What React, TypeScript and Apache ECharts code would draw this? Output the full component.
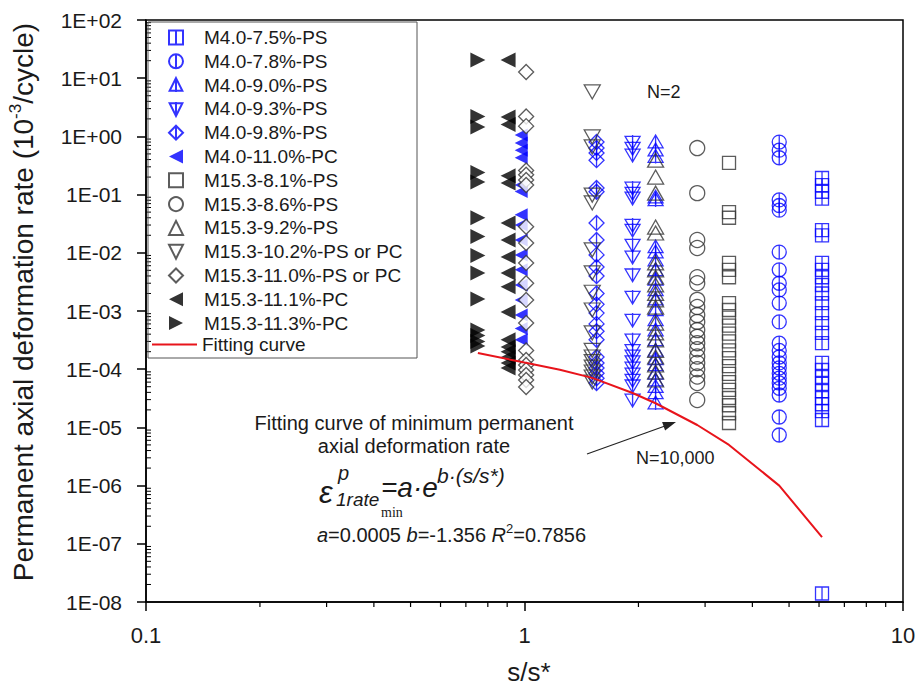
import React, { useEffect, useRef } from 'react';
import * as echarts from 'echarts';

const FONT = "'Liberation Sans', Arial, Helvetica, sans-serif";
const SERIF = "'Liberation Serif', 'Times New Roman', serif";
const INK = '#1a1a1a';
const BLUE = '#0000ff';
const GREY = '#333333';
const RED = '#e8141b';

const xTickLabels = ['0.1', '1', '10'];
const yTickLabels = ['1E-08', '1E-07', '1E-06', '1E-05', '1E-04', '1E-03', '1E-02', '1E-01', '1E+00', '1E+01', '1E+02'];

// s/s* position of each test group
const xM40_75 = 6.11;
const xM40_78 = 4.71;
const xM40_90 = 2.22;
const xM40_93 = 1.93;
const xM40_98 = 1.55;
const xM40_110 = 0.98;
const xM153_81 = 3.47;
const xM153_86 = 2.86;
const xM153_92 = 2.22;
const xM153_102 = 1.51;
const xM153_110 = 1.01;
const xM153_111 = 0.905;
const xM153_113 = 0.753;

// permanent axial deformation rates (10^-3/cycle)
const yM40_75 = [0.193, 0.146, 0.112, 0.085, 0.0246, 0.02, 0.0067, 0.0051, 0.0038, 0.0028, 0.002, 0.00137, 0.00092, 0.00062, 0.00042, 0.00028, 0.000128, 0.0000968, 0.0000734, 0.000056, 0.000042, 0.000032, 0.000025, 0.000019, 0.0000134, 1.4e-8];
const yM40_78 = [0.8, 0.58, 0.43, 0.081, 0.065, 0.054, 0.0103, 0.0051, 0.003, 0.0023, 0.00137, 0.00065, 0.00028, 0.00021, 0.000162, 0.000128, 0.000105, 0.000085, 0.00007, 0.000058, 0.000047, 0.000036, 0.0000151, 0.0000074];
const yM40_90 = [0.8, 0.58, 0.45, 0.09, 0.081, 0.0126, 0.0103, 0.0075, 0.0051, 0.0035, 0.0023, 0.0016, 0.00104, 0.0007, 0.00047, 0.00032, 0.00021, 0.00015, 0.000118, 0.000085, 0.000065, 0.00005, 0.000039, 0.0000262];
const yM40_93 = [0.8, 0.63, 0.48, 0.13, 0.106, 0.088, 0.03, 0.0246, 0.0136, 0.0085, 0.0042, 0.00174, 0.0007, 0.00032, 0.00021, 0.00017, 0.000135, 0.000105, 0.000083, 0.000065, 0.000052, 0.0000296];
const yM40_98 = [0.8, 0.63, 0.52, 0.39, 0.13, 0.112, 0.0325, 0.0166, 0.0092, 0.0057, 0.004, 0.002, 0.0013, 0.00092, 0.0006, 0.00045, 0.00032, 0.000162, 0.000128, 0.000105, 0.000085, 0.00007, 0.000058];
const yM40_110 = [1.06, 0.77, 0.58, 0.43, 0.146, 0.113, 0.045, 0.03, 0.0166, 0.0092, 0.0051, 0.0028, 0.00155, 0.00085, 0.0005, 0.00032];
const yM153_81 = [0.35, 0.05, 0.04, 0.0067, 0.0051, 0.0038, 0.00137, 0.00104, 0.00077, 0.00056, 0.00041, 0.0003, 0.00021, 0.000155, 0.000113, 0.000083, 0.00006, 0.000044, 0.000032, 0.000024, 0.0000175, 0.0000119];
const yM153_86 = [0.63, 0.106, 0.0166, 0.0121, 0.0038, 0.003, 0.00155, 0.00117, 0.00085, 0.00065, 0.00047, 0.00036, 0.00028, 0.00022, 0.000165, 0.000128, 0.0001, 0.000075, 0.000058, 0.0000296];
const yM153_92 = [0.39, 0.2, 0.106, 0.0277, 0.0219, 0.0067, 0.0051, 0.0038, 0.0028, 0.002, 0.00155, 0.00117, 0.00062, 0.00042, 0.00032, 0.00021, 0.000162, 0.000118, 0.0000895, 0.0000652];
const yM153_102 = [5.8, 0.98, 0.66, 0.098, 0.072, 0.0112, 0.0045, 0.0021, 0.00104, 0.00042, 0.00021, 0.000162, 0.000135, 0.000109, 0.0000895, 0.0000734, 0.0000603];
const yM153_110 = [12.8, 2.2, 1.5, 0.26, 0.22, 0.178, 0.146, 0.028, 0.0147, 0.0067, 0.003, 0.00155, 0.00062, 0.00021, 0.000144, 0.000118, 0.0000968, 0.0000795, 0.0000652, 0.0000495];
const yM153_111 = [20.6, 2.15, 1.6, 0.21, 0.158, 0.0325, 0.0166, 0.0085, 0.0045, 0.0026, 0.00096, 0.00032, 0.00024, 0.0002, 0.00016, 0.000128, 0.000105];
const yM153_113 = [20.6, 2.2, 1.45, 0.24, 0.165, 0.04, 0.019, 0.009, 0.0045, 0.0016, 0.00047, 0.00038, 0.0003, 0.00025];

// fitting curve of minimum permanent axial deformation rate
const fitX = [0.753, 1.0, 1.24, 1.51, 1.93, 2.22, 2.86, 3.47, 4.71, 6.11];
const fitY = [1.9e-4, 1.3e-4, 9.8e-5, 7.1e-5, 3.9e-5, 2.6e-5, 1.1e-5, 5e-6, 1.0e-6, 1.3e-7];

const scatterNames = [
  'M4.0-7.5%-PS', 'M4.0-7.8%-PS', 'M4.0-9.0%-PS', 'M4.0-9.3%-PS', 'M4.0-9.8%-PS', 'M4.0-11.0%-PC',
  'M15.3-8.1%-PS', 'M15.3-8.6%-PS', 'M15.3-9.2%-PS', 'M15.3-10.2%-PS or PC', 'M15.3-11.0%-PS or PC',
  'M15.3-11.1%-PC', 'M15.3-11.3%-PC',
];
const fitName = 'Fitting curve';

const SYM = {
  sqV: 'path://M0,0H10V10H0ZM5,0V10',
  circV: 'path://M0,5A5,5,0,1,1,10,5A5,5,0,1,1,0,5ZM5,0V10',
  triUpV: 'path://M5,0L10,10H0ZM5,0V11',
  triDownV: 'path://M0,0H10L5,10ZM5,-1V10',
  diamV: 'path://M5,0L10,5L5,10L0,5ZM5,0V10',
  triLeft: 'path://M10,0V10L0,5Z',
  triRight: 'path://M0,0L10,5L0,10Z',
  triDown: 'path://M0,0H10L5,10Z',
  triUp: 'path://M5,0L10,10H0Z',
  lineIcon: 'path://M0,0H45V2H0Z',
};

const yMinorTicks: number[] = [];
for (let e = -8; e < 2; e++) for (let m = 2; m <= 9; m++) yMinorTicks.push(m * Math.pow(10, e));
const xMinorTicks: number[] = [];
for (let e = -1; e < 1; e++) for (let m = 2; m <= 9; m++) xMinorTicks.push(m * Math.pow(10, e));

function openSeries(name: string, x: number, ys: number[], symbol: string, size: any, stroke: string, fill = 'rgba(255,255,255,0)') {
  return {
    type: 'scatter', name, symbol, symbolSize: size,
    data: ys.map((v) => [x, v]),
    itemStyle: { color: fill, borderColor: stroke, borderWidth: 1.3 },
    emphasis: { disabled: true },
  };
}
function filledSeries(name: string, x: number, ys: number[], symbol: string, size: any, color: string) {
  return {
    type: 'scatter', name, symbol, symbolSize: size,
    data: ys.map((v) => [x, v]),
    itemStyle: { color, borderWidth: 0 },
    emphasis: { disabled: true },
  };
}

export default function App() {
  const ref = useRef<HTMLDivElement>(null);
  useEffect(() => {
    if (!ref.current) return;
    const chart = echarts.init(ref.current, null, { renderer: 'svg' });
    const legendText = { fontFamily: FONT, fontSize: 19, color: INK, lineHeight: 18 };
    const option: any = {
      animation: false,
      backgroundColor: '#fff',
      grid: { left: 146, right: 16, top: 20, bottom: 89, show: true, borderColor: '#000', borderWidth: 1.5, backgroundColor: 'transparent' },
      xAxis: {
        type: 'log', logBase: 10, min: 0.1, max: 10, interval: 1,
        axisLine: { lineStyle: { color: '#000', width: 1.5 } },
        axisTick: { length: 9, lineStyle: { color: '#000', width: 1.5 } },
        minorTick: { show: false },
        splitLine: { show: false },
        axisLabel: {
          fontFamily: FONT, fontSize: 22, color: INK, margin: 22, interval: 0,
          formatter: (v: number) => xTickLabels[Math.round(Math.log10(v)) + 1] ?? '',
        },
      },
      yAxis: {
        type: 'log', logBase: 10, min: 1e-8, max: 100, interval: 1,
        axisLine: { lineStyle: { color: '#000', width: 1.5 } },
        axisTick: { length: 9, interval: 0, lineStyle: { color: '#000', width: 1.5 } },
        minorTick: { show: false },
        splitLine: { show: false },
        axisLabel: {
          fontFamily: FONT, fontSize: 21, color: INK, margin: 24, interval: 0,
          formatter: (v: number) => yTickLabels[Math.round(Math.log10(v)) + 8] ?? '',
        },
      },
      legend: [
        {
          data: scatterNames, orient: 'vertical', left: 168, top: 28, padding: 0,
          itemWidth: 14, itemHeight: 14, itemGap: 4.8, selectedMode: false,
          textStyle: { ...legendText, padding: [0, 0, 0, 16] },
        },
        {
          data: [{ name: fitName, icon: SYM.lineIcon }], orient: 'vertical', left: 152, top: 335, padding: 0,
          itemWidth: 45, itemHeight: 2, selectedMode: false,
          itemStyle: { color: RED, borderWidth: 0 },
          textStyle: legendText,
        },
      ],
      series: [
        openSeries(scatterNames[0], xM40_75, yM40_75, SYM.sqV, 13, BLUE),
        openSeries(scatterNames[1], xM40_78, yM40_78, SYM.circV, 14, BLUE),
        openSeries(scatterNames[2], xM40_90, yM40_90, SYM.triUpV, [15, 14], BLUE),
        openSeries(scatterNames[3], xM40_93, yM40_93, SYM.triDownV, [15, 14], BLUE),
        openSeries(scatterNames[4], xM40_98, yM40_98, SYM.diamV, 15, BLUE),
        filledSeries(scatterNames[5], xM40_110, yM40_110, SYM.triLeft, [13, 13], BLUE),
        openSeries(scatterNames[6], xM153_81, yM153_81, 'rect', 13, GREY),
        openSeries(scatterNames[7], xM153_86, yM153_86, 'circle', 15, GREY),
        openSeries(scatterNames[8], xM153_92, yM153_92, SYM.triUp, [16, 14], GREY),
        openSeries(scatterNames[9], xM153_102, yM153_102, SYM.triDown, [16, 14], GREY),
        openSeries(scatterNames[10], xM153_110, yM153_110, 'diamond', 15, GREY, '#ffffff'),
        filledSeries(scatterNames[11], xM153_111, yM153_111, SYM.triLeft, [15, 15], '#000'),
        filledSeries(scatterNames[12], xM153_113, yM153_113, SYM.triRight, [15, 15], '#000'),
        {
          type: 'line', name: fitName, symbol: 'none', showSymbol: false,
          data: fitX.map((x, i) => [x, fitY[i]]),
          lineStyle: { color: RED, width: 2 },
          itemStyle: { color: RED },
          emphasis: { disabled: true },
          z: 5,
        },
        {
          type: 'custom', name: 'yMinor', coordinateSystem: 'cartesian2d', clip: false, silent: true, z: 6,
          data: yMinorTicks.map((v) => [0.1, v]),
          renderItem: (_p: any, api: any) => {
            const p = api.coord([api.value(0), api.value(1)]);
            return { type: 'line', shape: { x1: p[0], y1: p[1], x2: p[0] + 5, y2: p[1] }, style: { stroke: '#000', lineWidth: 1 } };
          },
        },
        {
          type: 'custom', name: 'xMinor', coordinateSystem: 'cartesian2d', clip: false, silent: true, z: 6,
          data: xMinorTicks.map((v) => [v, 1e-8]),
          renderItem: (_p: any, api: any) => {
            const p = api.coord([api.value(0), api.value(1)]);
            return { type: 'line', shape: { x1: p[0], y1: p[1], x2: p[0], y2: p[1] + 5 }, style: { stroke: '#000', lineWidth: 1.2 } };
          },
        },
      ],
      graphic: [
        { type: 'rect', z: 10, shape: { x: 148, y: 22, width: 269, height: 336 }, style: { fill: 'none', stroke: '#555', lineWidth: 1 } },
        {
          type: 'text', x: 23, y: 302, rotation: Math.PI / 2, z: 10,
          style: {
            text: '{a|Permanent axial deformation rate (10}{s|-3}{a|/cycle)}',
            align: 'center', verticalAlign: 'middle', fill: INK,
            rich: {
              a: { fontFamily: FONT, fontSize: 28, lineHeight: 32, fill: INK },
              s: { fontFamily: FONT, fontSize: 17, lineHeight: 16, verticalAlign: 'top', fill: INK },
            },
          },
        },
        { type: 'text', x: 529, y: 672, z: 10, style: { text: 's/s*', fontFamily: FONT, fontSize: 26, fill: INK, align: 'center', verticalAlign: 'middle' } },
        { type: 'text', x: 647, y: 92, z: 10, style: { text: 'N=2', fontFamily: FONT, fontSize: 18, fill: INK, align: 'left', verticalAlign: 'middle' } },
        { type: 'text', x: 636, y: 458, z: 10, style: { text: 'N=10,000', fontFamily: FONT, fontSize: 18, fill: INK, align: 'left', verticalAlign: 'middle' } },
        { type: 'text', x: 414, y: 423, z: 10, style: { text: 'Fitting curve of minimum permanent', fontFamily: FONT, fontSize: 20, fill: INK, align: 'center', verticalAlign: 'middle' } },
        { type: 'text', x: 414, y: 446, z: 10, style: { text: 'axial deformation rate', fontFamily: FONT, fontSize: 20, fill: INK, align: 'center', verticalAlign: 'middle' } },
        { type: 'line', z: 10, shape: { x1: 587, y1: 454, x2: 665, y2: 426 }, style: { stroke: '#222', lineWidth: 1.2 } },
        { type: 'polygon', z: 10, shape: { points: [[676, 422], [665.1, 430.4], [662.1, 422.0]] }, style: { fill: '#222' } },
        { type: 'text', x: 319, y: 492, z: 10, style: { text: 'ε', fontFamily: FONT, fontStyle: 'italic', fontSize: 31, fill: INK, align: 'left', verticalAlign: 'middle' } },
        { type: 'text', x: 338, y: 473, z: 10, style: { text: 'p', fontFamily: FONT, fontStyle: 'italic', fontSize: 20, fill: INK, align: 'left', verticalAlign: 'middle' } },
        { type: 'text', x: 336, y: 499, z: 10, style: { text: '1rate', fontFamily: FONT, fontStyle: 'italic', fontSize: 19, fill: INK, align: 'left', verticalAlign: 'middle' } },
        { type: 'text', x: 381, y: 512, z: 10, style: { text: 'min', fontFamily: SERIF, fontSize: 14, fill: INK, align: 'left', verticalAlign: 'middle' } },
        { type: 'text', x: 381, y: 487, z: 10, style: { text: '=a·e', fontFamily: FONT, fontStyle: 'italic', fontSize: 28, fill: INK, align: 'left', verticalAlign: 'middle' } },
        { type: 'text', x: 437, y: 475, z: 10, style: { text: 'b·(s/s*)', fontFamily: FONT, fontStyle: 'italic', fontSize: 21, fill: INK, align: 'left', verticalAlign: 'middle' } },
        {
          type: 'text', x: 317, y: 535, z: 10,
          style: {
            text: '{i|a}{n|=0.0005 }{i|b}{n|=-1.356 }{i|R}{s|2}{n|=0.7856}',
            align: 'left', verticalAlign: 'middle', fill: INK,
            rich: {
              i: { fontFamily: FONT, fontStyle: 'italic', fontSize: 20, lineHeight: 26, fill: INK },
              n: { fontFamily: FONT, fontSize: 20, lineHeight: 26, fill: INK },
              s: { fontFamily: FONT, fontSize: 13, lineHeight: 12, verticalAlign: 'top', fill: INK },
            },
          },
        },
      ],
    };
    chart.setOption(option);
    return () => chart.dispose();
  }, []);
  return <div ref={ref} style={{ position: 'fixed', left: 0, top: 0, width: 919, height: 691, background: '#fff' }} />;
}
